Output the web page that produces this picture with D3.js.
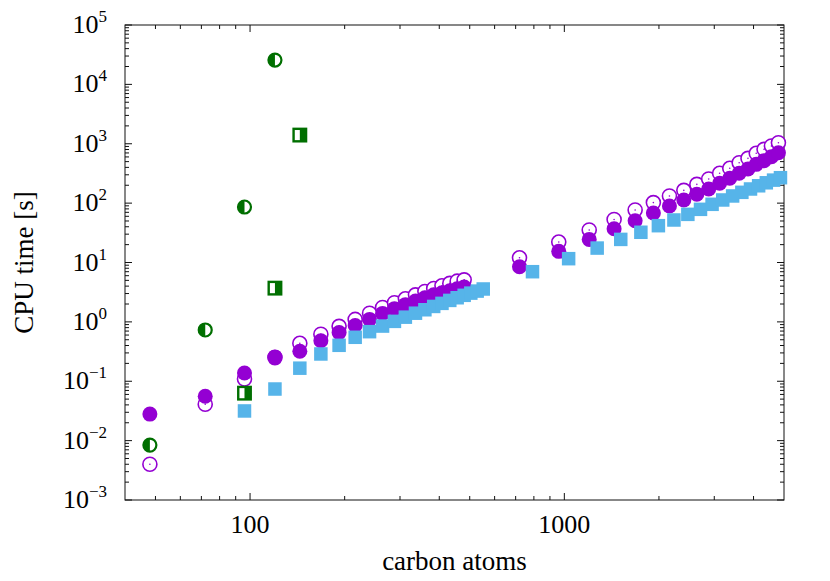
<!DOCTYPE html>
<html>
<head>
<meta charset="utf-8">
<script src="https://cdnjs.cloudflare.com/ajax/libs/d3/7.8.5/d3.min.js"></script>
<style>
  body { margin: 0; background: #fff; }
  text { font-family: "Liberation Serif", "DejaVu Serif", serif; fill: #000; }
</style>
</head>
<body>
<div id="chart"></div>
<script>
// ---- data ----
var atomsA = [48, 72, 96, 120, 144, 168, 192, 216, 240, 264, 288, 312, 336, 360, 384, 408, 432, 456, 480,
              720, 960, 1200, 1440, 1680, 1920, 2160, 2400, 2640, 2880, 3120, 3360, 3600, 3840, 4080, 4320, 4560, 4800];
var timeFilled = [0.028, 0.056, 0.138, 0.257, 0.32, 0.48, 0.66, 0.87, 1.10, 1.39, 1.67, 1.95, 2.25, 2.55, 2.85, 3.1, 3.35, 3.6, 3.85,
                  8.5, 15.4, 24.5, 37, 50.6, 68, 89.5, 113, 141, 173, 216, 262, 318, 376, 450, 519, 605, 707];
var timeOpen = [0.004, 0.041, 0.109, 0.25, 0.436, 0.62, 0.84, 1.10, 1.40, 1.75, 2.1, 2.45, 2.85, 3.25, 3.65, 4.05, 4.45, 4.85, 5.1,
                12.0, 22.1, 35.3, 53, 76.6, 102, 132, 164, 207, 255, 318, 386, 480, 568, 690, 805, 917, 1042];
var atomsB = [96, 120, 144, 168, 192, 216, 240, 264, 288, 312, 336, 360, 384, 408, 432, 456, 480, 504, 528, 552,
              792, 1032, 1272, 1512, 1752, 1992, 2232, 2472, 2712, 2952, 3192, 3432, 3672, 3912, 4152, 4392, 4632, 4872];
var timeSquare = [0.0316, 0.074, 0.166, 0.288, 0.403, 0.55, 0.684, 0.85, 1.02, 1.2, 1.4, 1.6, 1.82, 2.05, 2.3, 2.55, 2.8, 3.05, 3.3, 3.58,
                  7.0, 11.6, 17.5, 24.5, 32.3, 41.7, 52, 64.7, 78.6, 95.5, 113, 132, 152, 173, 196, 220, 244, 268];
var atomsHalfCircle = [48, 72, 96, 120];
var timeHalfCircle = [0.0084, 0.73, 86, 25700];
var atomsHalfSquare = [96, 120, 144];
var timeHalfSquare = [0.063, 3.7, 1400];

var xTickValues = [100, 1000];
var yExponents = [-3, -2, -1, 0, 1, 2, 3, 4, 5];

var purple = "#9400d3", blue = "#56b4e9", green = "#006f00";

// ---- layout ----
var W = 830, H = 581;
var plot = { left: 125, right: 784, top: 25, bottom: 500 };

var svg = d3.select("#chart").append("svg")
    .attr("width", W).attr("height", H);

var x = d3.scaleLog().domain([40, 5000]).range([plot.left, plot.right]);
var y = d3.scaleLog().domain([1e-3, 1e5]).range([plot.bottom, plot.top]);

// minor tick values
var xMinor = [];
[10, 100, 1000].forEach(function (d) {
    for (var k = 2; k <= 9; k++) {
        var v = d * k;
        if (v > 40 && v < 5000) xMinor.push(v);
    }
});
var yMinor = [];
yExponents.slice(0, -1).forEach(function (e) {
    for (var k = 2; k <= 9; k++) yMinor.push(k * Math.pow(10, e));
});
var yMajor = yExponents.map(function (e) { return Math.pow(10, e); });

var axisColor = "#111";
var major = 7, minor = 4;

function ticksX(g, ypos, dir) {
    g.selectAll(null).data(xTickValues).enter().append("line")
        .attr("x1", function (d) { return x(d); }).attr("x2", function (d) { return x(d); })
        .attr("y1", ypos).attr("y2", ypos + dir * major);
    g.selectAll(null).data(xMinor).enter().append("line")
        .attr("x1", function (d) { return x(d); }).attr("x2", function (d) { return x(d); })
        .attr("y1", ypos).attr("y2", ypos + dir * minor);
}
function ticksY(g, xpos, dir) {
    g.selectAll(null).data(yMajor).enter().append("line")
        .attr("y1", function (d) { return y(d); }).attr("y2", function (d) { return y(d); })
        .attr("x1", xpos).attr("x2", xpos + dir * major);
    g.selectAll(null).data(yMinor).enter().append("line")
        .attr("y1", function (d) { return y(d); }).attr("y2", function (d) { return y(d); })
        .attr("x1", xpos).attr("x2", xpos + dir * minor);
}

var axes = svg.append("g").attr("stroke", axisColor).attr("stroke-width", 1);
ticksX(axes, plot.bottom, -1);
ticksX(axes, plot.top, 1);
ticksY(axes, plot.left, 1);
ticksY(axes, plot.right, -1);
axes.append("rect")
    .attr("x", plot.left).attr("y", plot.top)
    .attr("width", plot.right - plot.left).attr("height", plot.bottom - plot.top)
    .attr("fill", "none");

// x tick labels
svg.selectAll(".xlab").data(xTickValues).enter().append("text")
    .attr("class", "xlab")
    .attr("x", function (d) { return x(d); })
    .attr("y", plot.bottom + 33)
    .attr("text-anchor", "middle")
    .style("font-size", "26px")
    .text(function (d) { return d; });

// y tick labels 10^n
var ylab = svg.selectAll(".ylab").data(yExponents).enter().append("text")
    .attr("class", "ylab")
    .attr("x", 107)
    .attr("y", function (d) { return y(Math.pow(10, d)) + 8; })
    .attr("text-anchor", "end")
    .style("font-size", "26px");
ylab.append("tspan").text("10");
ylab.append("tspan").attr("dy", -11).style("font-size", "17px")
    .text(function (d) { return d < 0 ? "\u2212" + (-d) : d; });

// axis titles
svg.append("text")
    .attr("x", (plot.left + plot.right) / 2).attr("y", 570)
    .attr("text-anchor", "middle").style("font-size", "27px")
    .text("carbon atoms");
svg.append("text")
    .attr("transform", "translate(33," + ((plot.top + plot.bottom) / 2) + ") rotate(-90)")
    .attr("text-anchor", "middle").style("font-size", "27px")
    .text("CPU time [s]");

// ---- marks ----
var marks = svg.append("g");

// open purple circles (with centre dot)
var openPts = d3.zip(atomsA, timeOpen);
marks.selectAll(".open").data(openPts).enter().append("circle")
    .attr("class", "open")
    .attr("cx", function (d) { return x(d[0]); }).attr("cy", function (d) { return y(d[1]); })
    .attr("r", 7).attr("fill", "#fff").attr("stroke", purple).attr("stroke-width", 1.6);
marks.selectAll(".dot").data(openPts).enter().append("circle")
    .attr("class", "dot")
    .attr("cx", function (d) { return x(d[0]); }).attr("cy", function (d) { return y(d[1]); })
    .attr("r", 0.8).attr("fill", purple);

// filled purple circles
marks.selectAll(".filled").data(d3.zip(atomsA, timeFilled)).enter().append("circle")
    .attr("class", "filled")
    .attr("cx", function (d) { return x(d[0]); }).attr("cy", function (d) { return y(d[1]); })
    .attr("r", 7.5).attr("fill", purple);

// blue squares
var sq = 13.5;
marks.selectAll(".sq").data(d3.zip(atomsB, timeSquare)).enter().append("rect")
    .attr("class", "sq")
    .attr("x", function (d) { return x(d[0]) - sq / 2; }).attr("y", function (d) { return y(d[1]) - sq / 2; })
    .attr("width", sq).attr("height", sq).attr("fill", blue);

// green half-filled circles
var hr = 6.5;
var hc = marks.selectAll(".hc").data(d3.zip(atomsHalfCircle, timeHalfCircle)).enter().append("g")
    .attr("class", "hc")
    .attr("transform", function (d) { return "translate(" + x(d[0]) + "," + y(d[1]) + ")"; });
hc.append("circle").attr("r", hr).attr("fill", "#fff").attr("stroke", green).attr("stroke-width", 2.2);
hc.append("path").attr("d", "M0," + (-hr) + "A" + hr + "," + hr + " 0 0 0 0," + hr + "Z").attr("fill", green);

// green half-filled squares
var hs = 12.5;
var hsq = marks.selectAll(".hs").data(d3.zip(atomsHalfSquare, timeHalfSquare)).enter().append("g")
    .attr("class", "hs")
    .attr("transform", function (d) { return "translate(" + x(d[0]) + "," + y(d[1]) + ")"; });
hsq.append("rect").attr("x", -hs / 2).attr("y", -hs / 2).attr("width", hs).attr("height", hs)
    .attr("fill", "#fff").attr("stroke", green).attr("stroke-width", 2.4);
hsq.append("rect").attr("x", 0).attr("y", -hs / 2).attr("width", hs / 2).attr("height", hs).attr("fill", green);
</script>
</body>
</html>
